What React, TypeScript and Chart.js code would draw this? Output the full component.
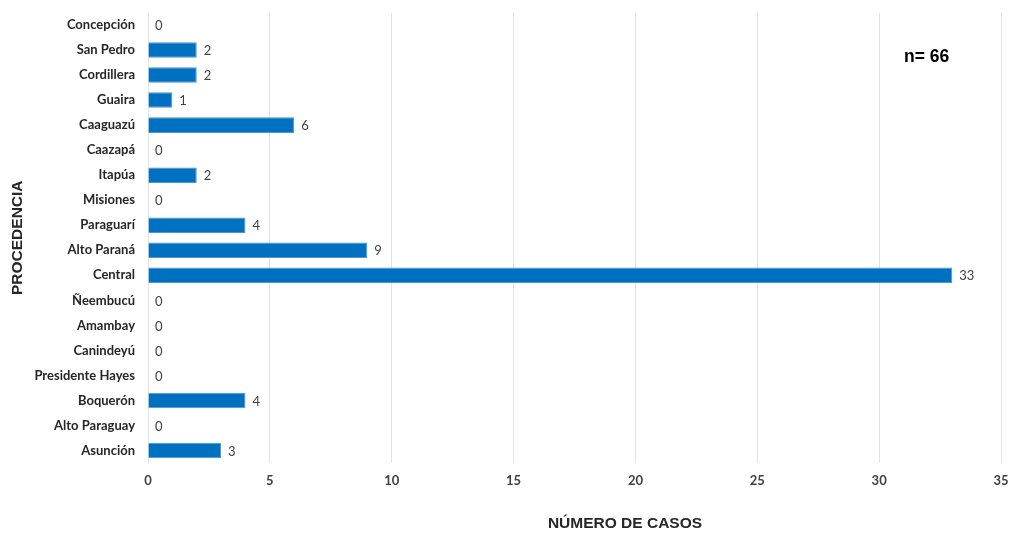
import React, { useEffect, useRef } from "react";
import { Chart, registerables } from "chart.js";

Chart.register(...registerables);

// Departamentos, de arriba hacia abajo
const departamentos: string[] = [
  "Concepción",
  "San Pedro",
  "Cordillera",
  "Guaira",
  "Caaguazú",
  "Caazapá",
  "Itapúa",
  "Misiones",
  "Paraguarí",
  "Alto Paraná",
  "Central",
  "Ñeembucú",
  "Amambay",
  "Canindeyú",
  "Presidente Hayes",
  "Boquerón",
  "Alto Paraguay",
  "Asunción",
];

// Número de casos por departamento
const casos: number[] = [0, 2, 2, 1, 6, 0, 2, 0, 4, 9, 33, 0, 0, 0, 0, 4, 0, 3];

const ejeXMin = 0;
const ejeXMax = 35;
const ejeXPaso = 5;

const tituloX = "NÚMERO DE CASOS";
const tituloY = "PROCEDENCIA";
const totalTexto = "n= 66";

const etiquetasYTitulos = {
  id: "etiquetasYTitulos",
  afterDatasetsDraw(chart: any) {
    const { ctx, chartArea } = chart;
    const meta = chart.getDatasetMeta(0);
    ctx.save();
    // valores al final de cada barra
    ctx.font = "13px Lato, 'Open Sans', sans-serif";
    ctx.fillStyle = "#404040";
    ctx.textAlign = "left";
    ctx.textBaseline = "middle";
    meta.data.forEach((bar: any, i: number) => {
      ctx.fillText(String(casos[i]), bar.x + 7, bar.y + 1);
    });

    // títulos de los ejes
    ctx.fillStyle = "#262626";
    ctx.font = "bold 15.5px 'Liberation Sans', Arial, sans-serif";
    ctx.textAlign = "center";
    ctx.textBaseline = "middle";
    ctx.fillText(tituloX, 625, 524);

    ctx.save();
    ctx.translate(18, (chartArea.top + chartArea.bottom) / 2);
    ctx.rotate(-Math.PI / 2);
    ctx.fillText(tituloY, 0, 0);
    ctx.restore();

    // total de casos
    ctx.fillStyle = "#000000";
    ctx.font = "bold 17.5px 'Liberation Sans', Arial, sans-serif";
    ctx.textAlign = "left";
    ctx.fillText(totalTexto, 904, 57);
    ctx.restore();
  },
};

export default function App() {
  const canvasRef = useRef<HTMLCanvasElement | null>(null);

  useEffect(() => {
    if (!canvasRef.current) return;
    const chart = new Chart(canvasRef.current, {
      type: "bar",
      data: {
        labels: departamentos,
        datasets: [
          {
            data: casos,
            backgroundColor: "#0070C0",
            borderColor: "#4f94d0",
            borderWidth: 1,
            barPercentage: 0.62,
            categoryPercentage: 1,
          },
        ],
      },
      options: {
        indexAxis: "y",
        animation: false,
        responsive: false,
        maintainAspectRatio: false,
        layout: { padding: { left: 0, right: 9, top: 12.5, bottom: 0 } },
        plugins: {
          legend: { display: false },
          tooltip: { enabled: false },
        },
        scales: {
          x: {
            min: ejeXMin,
            max: ejeXMax,
            ticks: {
              stepSize: ejeXPaso,
              padding: 10,
              color: "#404040",
              font: { family: "Lato, 'Open Sans', sans-serif", size: 13, weight: "bold" },
            },
            grid: { color: "#e3e3e3", drawTicks: false, lineWidth: 1 },
            border: { display: false },
            afterFit(scale: any) {
              scale.height = 70;
              scale.paddingLeft = 0;
              scale.paddingRight = 0;
            },
          },
          y: {
            ticks: {
              padding: 13,
              color: "#262626",
              font: { family: "Lato, 'Open Sans', sans-serif", size: 13, weight: "bold" },
            },
            grid: { display: false, drawTicks: false },
            border: { display: false },
            afterFit(scale: any) {
              scale.width = 148;
              scale.paddingTop = 0;
              scale.paddingBottom = 0;
            },
          },
        },
      },
      plugins: [etiquetasYTitulos],
    });
    return () => chart.destroy();
  }, []);

  return (
    <div style={{ position: "fixed", left: 0, top: 0, width: 1010, height: 533, background: "#ffffff" }}>
      <canvas ref={canvasRef} width={1010} height={533} />
    </div>
  );
}
